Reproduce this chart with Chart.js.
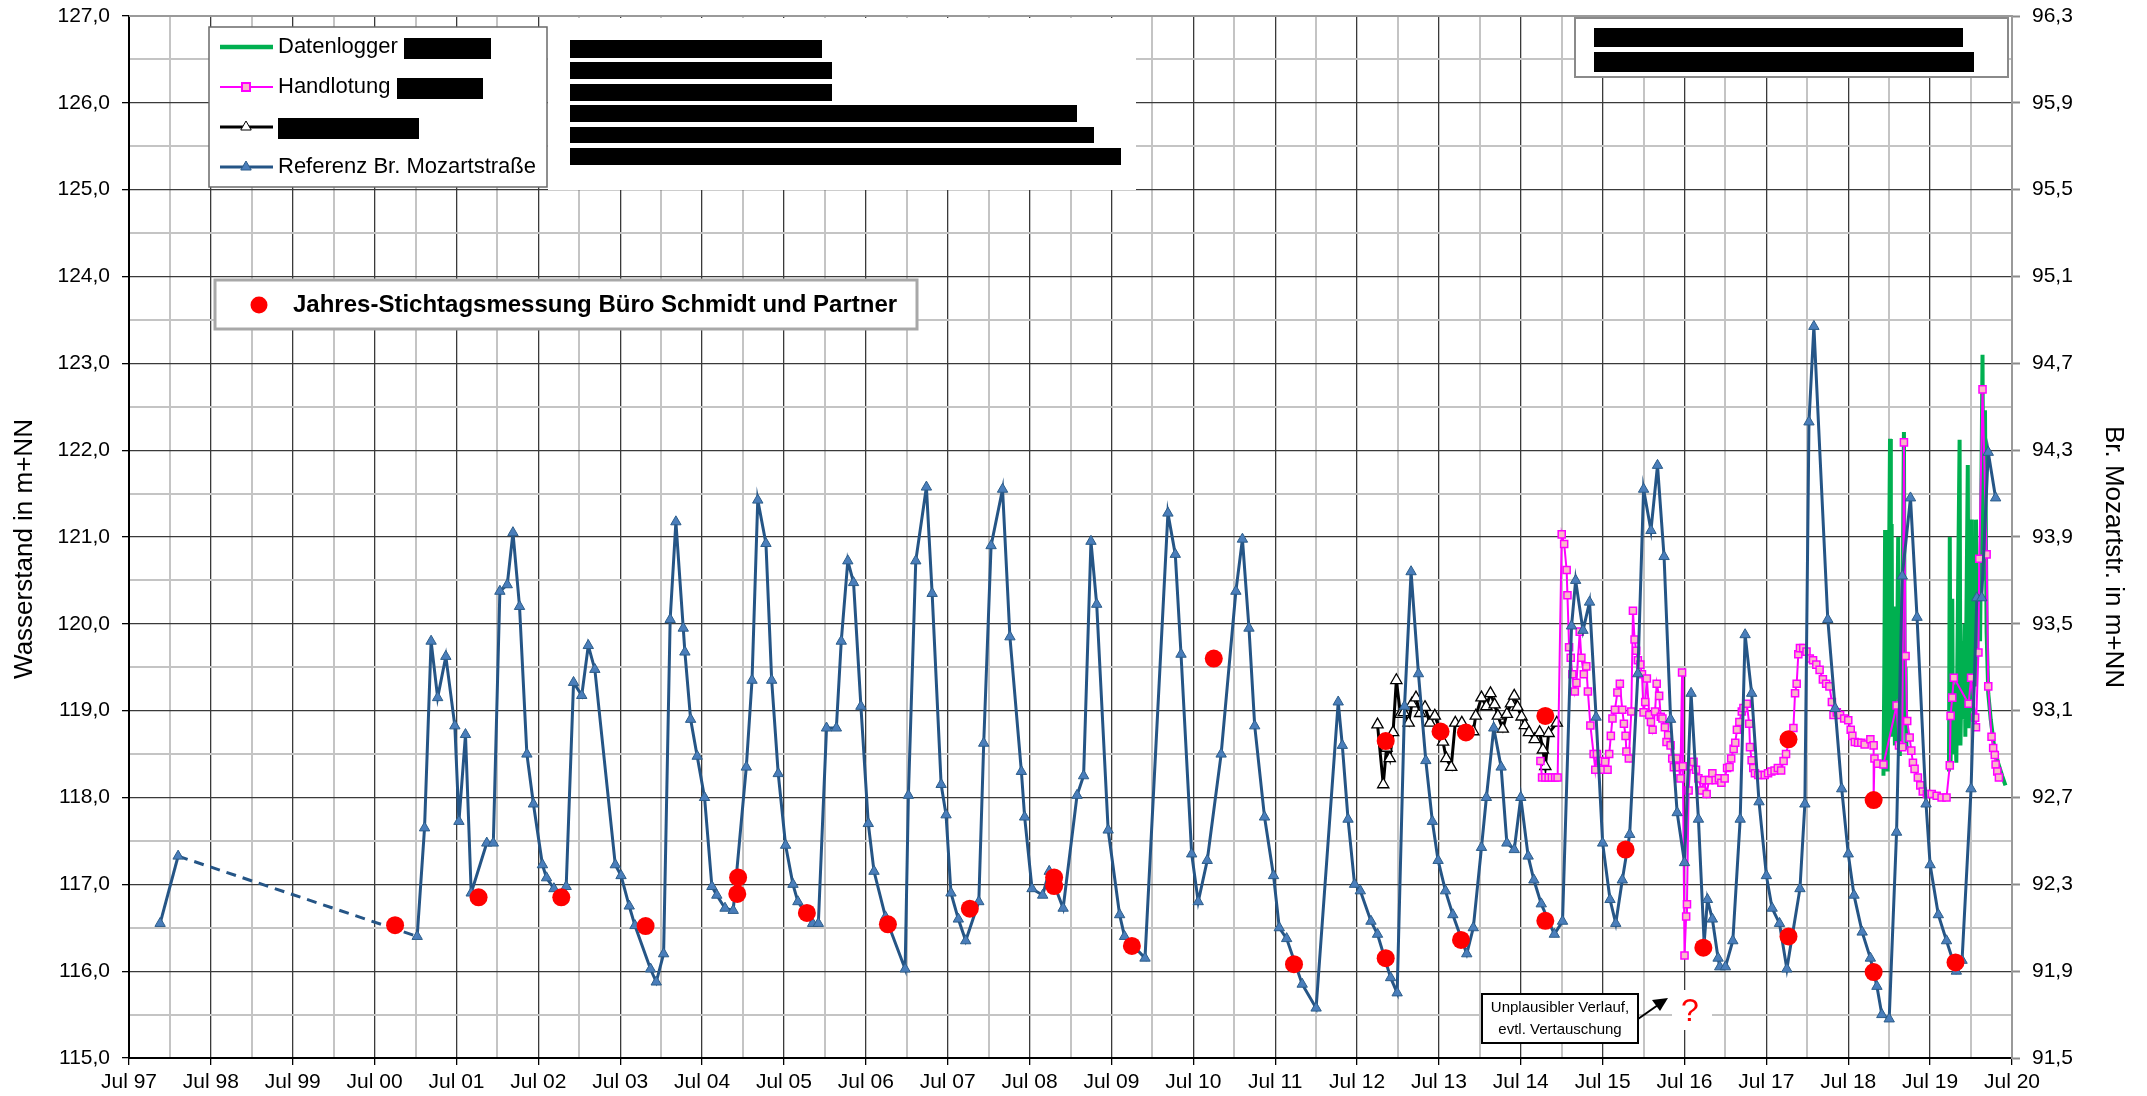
<!DOCTYPE html>
<html>
<head>
<meta charset="utf-8">
<script src="https://cdn.jsdelivr.net/npm/chart.js@4.4.1/dist/chart.umd.min.js"></script>
<style>
  html, body { margin: 0; padding: 0; background: #fff; }
  canvas { display: block; }
</style>
</head>
<body>
<canvas id="chart" width="2147" height="1096" style="width:2147px;height:1096px"></canvas>
<script>
// --- data (dates as decimal years, Jul = .5) ---
const refDates = [1997.88, 1998.10, 2001.02, 2001.11, 2001.19, 2001.27, 2001.37, 2001.48, 2001.53, 2001.61, 2001.68, 2001.87, 2001.95,
  2002.03, 2002.12, 2002.19, 2002.27, 2002.36, 2002.44, 2002.55, 2002.60, 2002.69, 2002.80, 2002.84, 2002.93,
  2003.03, 2003.11, 2003.19, 2003.44, 2003.51, 2003.61, 2003.68, 2003.87, 2003.94,
  2004.03, 2004.11, 2004.18, 2004.27, 2004.29, 2004.36, 2004.44, 2004.53, 2004.62, 2004.68, 2004.78, 2004.88,
  2005.04, 2005.11, 2005.18, 2005.28, 2005.35, 2005.43, 2005.52, 2005.61, 2005.67, 2005.85, 2005.92,
  2006.02, 2006.14, 2006.20, 2006.28, 2006.35, 2006.44, 2006.53, 2006.60, 2006.74, 2006.98,
  2007.02, 2007.11, 2007.24, 2007.31, 2007.42, 2007.48, 2007.54, 2007.63, 2007.72, 2007.88, 2007.94,
  2008.03, 2008.17, 2008.26, 2008.40, 2008.44, 2008.53, 2008.66, 2008.74, 2008.91,
  2009.08, 2009.16, 2009.25, 2009.32, 2009.46, 2009.60, 2009.66, 2009.91,
  2010.19, 2010.28, 2010.35, 2010.48, 2010.56, 2010.67, 2010.84,
  2011.02, 2011.10, 2011.18, 2011.25, 2011.37, 2011.48, 2011.55, 2011.64, 2011.83,
  2012.00, 2012.27, 2012.32, 2012.39, 2012.47, 2012.54, 2012.67, 2012.75, 2012.91, 2012.99,
  2013.08, 2013.16, 2013.25, 2013.34, 2013.42, 2013.49, 2013.58, 2013.67, 2013.84, 2013.92,
  2014.02, 2014.08, 2014.17, 2014.26, 2014.33, 2014.42, 2014.50, 2014.59, 2014.66, 2014.75, 2014.91,
  2015.01, 2015.12, 2015.17, 2015.26, 2015.34, 2015.42, 2015.50, 2015.59, 2015.66, 2015.74, 2015.83, 2015.93,
  2016.00, 2016.09, 2016.17, 2016.25, 2016.33, 2016.41, 2016.50, 2016.58, 2016.67, 2016.74, 2016.78, 2016.84, 2016.91, 2016.93,
  2017.00, 2017.09, 2017.18, 2017.24, 2017.32, 2017.41, 2017.50, 2017.57, 2017.66, 2017.75, 2017.91, 2017.97,
  2018.02, 2018.08, 2018.25, 2018.34, 2018.42, 2018.50, 2018.57, 2018.67, 2018.77, 2018.85, 2018.91,
  2019.00, 2019.09, 2019.16, 2019.26, 2019.34, 2019.45, 2019.50, 2019.60, 2019.70, 2019.82, 2019.89,
  2020.00, 2020.07, 2020.13, 2020.21, 2020.30];
// Referenz Br. Mozartstrasse, right axis (m+NN)
const refLevels = [92.12, 92.43, 92.06, 92.56, 93.42, 93.16, 93.35, 93.03, 92.59, 92.99, 92.26, 92.49, 92.49,
  93.65, 93.68, 93.92, 93.58, 92.90, 92.67, 92.39, 92.33, 92.28, 92.23, 92.29, 93.23,
  93.17, 93.40, 93.29, 92.39, 92.34, 92.20, 92.11, 91.91, 91.85,
  91.98, 93.52, 93.97, 93.48, 93.37, 93.06, 92.89, 92.70, 92.29, 92.25, 92.19, 92.18,
  92.84, 93.24, 94.07, 93.87, 93.24, 92.81, 92.48, 92.30, 92.22, 92.12, 92.12,
  93.02, 93.02, 93.42, 93.79, 93.69, 93.12, 92.58, 92.36, 92.15, 91.91,
  92.71, 93.79, 94.13, 93.64, 92.76, 92.62, 92.26, 92.14, 92.04, 92.22, 92.95,
  93.86, 94.12, 93.44, 92.82, 92.61, 92.28, 92.25, 92.36, 92.19,
  92.71, 92.80, 93.88, 93.59, 92.55, 92.16, 92.06, 91.96,
  94.01, 93.82, 93.36, 92.44, 92.22, 92.41, 92.90,
  93.65, 93.89, 93.48, 93.03, 92.61, 92.34, 92.10, 92.05, 91.84,
  91.73, 93.14, 92.94, 92.60, 92.30, 92.27, 92.13, 92.07, 91.87, 91.80,
  93.12, 93.74, 93.27, 92.87, 92.59, 92.41, 92.27, 92.16, 91.98, 92.10,
  92.47, 92.70, 93.02, 92.84, 92.49, 92.46, 92.70, 92.43, 92.32, 92.21, 92.07,
  92.13, 93.49, 93.70, 93.47, 93.60, 93.07, 92.49, 92.23, 92.12, 92.32, 92.53, 93.27,
  94.12, 93.93, 94.23, 93.81, 93.06, 92.63, 92.40, 93.18, 92.60, 92.03, 92.23, 92.14, 91.96, 91.92,
  91.92, 92.04, 92.60, 93.45, 93.18, 92.68, 92.34, 92.19, 92.12, 91.91, 92.28, 92.67,
  94.43, 94.87, 93.52, 93.11, 92.74, 92.44, 92.25, 92.08, 91.96, 91.83, 91.70,
  91.68, 92.54, 93.72, 94.08, 93.53, 92.67, 92.39, 92.16, 92.04, 91.90, 91.95,
  92.74, 93.62, 93.62, 94.29, 94.08];

// Jahres-Stichtagsmessung (left axis)
const stichDates = [2000.75, 2001.77, 2002.78, 2003.81, 2004.94, 2004.93, 2005.78, 2006.77, 2007.77, 2008.80, 2008.80,
  2009.75, 2010.75, 2011.73, 2012.85, 2012.85, 2013.52, 2013.77, 2013.83, 2014.80, 2014.80, 2015.78, 2016.73,
  2017.77, 2017.77, 2018.81, 2018.81, 2019.81];
const stichLevels = [116.53, 116.85, 116.85, 116.52, 117.08, 116.89, 116.67, 116.54, 116.72, 117.08, 116.98,
  116.29, 119.60, 116.08, 118.65, 116.15, 118.76, 116.36, 118.75, 118.94, 116.58, 117.40, 116.27,
  118.67, 116.40, 117.97, 115.99, 116.10];

// unnamed series (black, open triangles)
const blackDates = [2012.75, 2012.82, 2012.86, 2012.90, 2012.94, 2012.98, 2013.03, 2013.07, 2013.13, 2013.17, 2013.22,
  2013.27, 2013.33, 2013.39, 2013.45, 2013.52, 2013.55, 2013.59, 2013.65, 2013.70, 2013.78, 2013.83, 2013.92, 2013.95,
  2014.02, 2014.08, 2014.13, 2014.18, 2014.22, 2014.28, 2014.33, 2014.38, 2014.42, 2014.46, 2014.51, 2014.55,
  2014.60, 2014.67, 2014.73, 2014.77, 2014.80, 2014.84, 2014.94];
const blackLevels = [118.84, 118.15, 118.57, 118.45, 118.75, 119.35, 118.96, 118.98, 118.86, 119.08, 119.15,
  118.97, 119.04, 118.86, 118.94, 118.76, 118.64, 118.45, 118.35, 118.86, 118.86, 118.75, 118.76, 118.94,
  119.15, 119.05, 119.20, 119.07, 118.94, 118.79, 118.96, 119.08, 119.17, 119.04, 118.93, 118.83,
  118.75, 118.67, 118.75, 118.55, 118.36, 118.74, 118.86];

// Handlotung
const handDates = [2014.74, 2014.76, 2014.80, 2014.84, 2014.88, 2014.92, 2014.95,
  2015.00, 2015.03, 2015.06, 2015.07, 2015.09, 2015.11, 2015.13, 2015.16, 2015.18, 2015.22, 2015.24, 2015.27, 2015.30, 2015.32, 2015.35,
  2015.39, 2015.41, 2015.43, 2015.47, 2015.50, 2015.53, 2015.56, 2015.58, 2015.60, 2015.62, 2015.65, 2015.68, 2015.71, 2015.74,
  2015.76, 2015.78, 2015.79, 2015.82, 2015.85, 2015.87, 2015.89, 2015.91, 2015.93, 2015.96, 2015.98,
  2016.00, 2016.02, 2016.04, 2016.07, 2016.09, 2016.11, 2016.14, 2016.16, 2016.19, 2016.21, 2016.23, 2016.26, 2016.28, 2016.30,
  2016.33, 2016.35, 2016.37, 2016.40, 2016.43, 2016.45, 2016.47, 2016.48, 2016.50, 2016.52, 2016.53, 2016.55, 2016.57,
  2016.61, 2016.64, 2016.67, 2016.71, 2016.74, 2016.77, 2016.80, 2016.84, 2016.88, 2016.92, 2016.95, 2016.99,
  2017.02, 2017.05, 2017.07, 2017.10, 2017.12, 2017.14, 2017.17, 2017.20, 2017.22, 2017.26, 2017.29, 2017.30, 2017.32, 2017.34, 2017.36,
  2017.40, 2017.44, 2017.48, 2017.52, 2017.56, 2017.60, 2017.64, 2017.68, 2017.71, 2017.74, 2017.78, 2017.83, 2017.85, 2017.87, 2017.89,
  2017.91, 2017.95, 2017.99, 2018.03, 2018.07, 2018.11, 2018.15, 2018.19, 2018.23, 2018.27, 2018.30, 2018.32, 2018.36, 2018.40,
  2018.45, 2018.50, 2018.53, 2018.55, 2018.58, 2018.62, 2018.66, 2018.70, 2018.77, 2018.81, 2018.81, 2018.82, 2018.86, 2018.93,
  2019.09, 2019.12, 2019.16, 2019.18, 2019.20, 2019.22, 2019.25, 2019.27, 2019.29, 2019.31, 2019.35, 2019.38, 2019.41, 2019.46,
  2019.52, 2019.58, 2019.64, 2019.70, 2019.74, 2019.75, 2019.77, 2019.79, 2019.97, 2020.00, 2020.05, 2020.06, 2020.09, 2020.10,
  2020.14, 2020.19, 2020.21, 2020.25, 2020.27, 2020.29, 2020.30, 2020.32, 2020.34];
const handLevels = [118.42, 118.23, 118.23, 118.23, 118.23, 118.23, 118.23,
  121.03, 120.92, 120.62, 120.33, 119.73, 119.61, 119.42, 119.22, 119.32, 119.91, 119.61, 119.42, 119.51, 119.22, 118.83,
  118.50, 118.32, 118.50, 118.42, 118.32, 118.41, 118.32, 118.50, 118.71, 118.91, 119.01, 119.21, 119.31, 119.01,
  118.85, 118.71, 118.53, 118.45, 118.99, 120.15, 119.82, 119.69, 119.58, 119.53, 119.42,
  118.98, 119.10, 119.37, 118.95, 118.87, 118.78, 118.99, 119.31, 119.17, 118.93, 118.91, 118.81, 118.64, 118.72,
  118.60, 118.45, 118.35, 118.45, 118.35, 118.22, 119.44, 118.36, 116.18, 116.63, 116.77, 118.08, 118.36,
  118.41, 118.32, 118.22, 118.08, 118.20, 118.04, 118.20, 118.28, 118.20, 118.22, 118.17, 118.22,
  118.34, 118.35, 118.45, 118.56, 118.63, 118.78, 118.87, 118.99, 119.03, 119.08, 118.85, 118.58, 118.43, 118.34, 118.28,
  118.26, 118.26, 118.26, 118.28, 118.30, 118.31, 118.34, 118.31, 118.42, 118.50, 118.67, 118.80, 119.20, 119.31, 119.65,
  119.72, 119.72, 119.68, 119.60, 119.58, 119.53, 119.47, 119.36, 119.31, 119.28, 119.10, 118.95, 118.98, 118.95,
  118.91, 118.89, 118.78, 118.71, 118.64, 118.63, 118.63, 118.61, 118.67, 118.60, 117.98, 118.45, 118.39, 118.38,
  119.06, 118.60, 118.58, 122.09, 119.63, 118.88, 118.69, 118.54, 118.40, 118.33, 118.23, 118.14, 118.07, 118.04,
  118.04, 118.02, 118.00, 118.00, 118.37, 118.94, 119.15, 119.38, 119.08, 119.38, 118.92, 118.81, 119.67, 120.75,
  122.70, 120.80, 119.28, 118.70, 118.57, 118.49, 118.38, 118.30, 118.23];

// Datenlogger (null = no record)
const loggerDates = [2018.93, 2018.94, 2018.95, 2018.96, 2018.97, 2018.98, 2019.01, 2019.02, 2019.03, 2019.04, 2019.05,
  2019.07, 2019.08, 2019.09, 2019.11, 2019.12, 2019.13, 2019.15, 2019.18, 2019.19, 2019.20, 2019.21, 2019.22, 2019.50,
  2019.73, 2019.74, 2019.75, 2019.77, 2019.78, 2019.80, 2019.82, 2019.86, 2019.87, 2019.89, 2019.90, 2019.92, 2019.93,
  2019.96, 2019.97, 2019.99, 2020.01, 2020.02, 2020.04, 2020.05, 2020.06, 2020.07, 2020.09, 2020.11, 2020.14, 2020.15,
  2020.17, 2020.19, 2020.21, 2020.24, 2020.28, 2020.33, 2020.38, 2020.42];
const loggerLevels = [118.25, 119.4, 121.08, 118.6, 119.5, 118.3, 122.13, 118.7, 121.15, 118.8, 120.1,
  118.6, 120.2, 118.9, 121.0, 118.5, 119.4, 118.55, 122.21, 118.9, 119.5, 118.6, 118.55, null,
  118.3, 121.0, 118.4, 120.29, 118.5, 119.3, 118.4, 122.12, 118.6, 119.8, 118.9, 120.0, 118.7,
  121.83, 118.8, 119.2, 121.2, 119.0, 119.9, 119.3, 121.2, 119.5, 120.3, 119.8, 123.10, 120.5,
  122.46, 119.9, 119.2, 118.9, 118.6, 118.4, 118.25, 118.14];

// axis ticks
const leftTicks = [115, 115.5, 116, 116.5, 117, 117.5, 118, 118.5, 119, 119.5, 120, 120.5, 121, 121.5,
  122, 122.5, 123, 123.5, 124, 124.5, 125, 125.5, 126, 126.5, 127];
const rightTicks = [91.5, 91.9, 92.3, 92.7, 93.1, 93.5, 93.9, 94.3, 94.7, 95.1, 95.5, 95.9, 96.3];
const xTicks = [];
for (let v = 1997.5; v <= 2020.51; v += 0.5) xTicks.push(Math.round(v * 10) / 10);

// --- helpers ---
const FONT = "'Liberation Sans', Arial, Helvetica, sans-serif";
const comma = v => v.toFixed(1).replace('.', ',');
const isJul = v => Math.abs(v - Math.floor(v) - 0.5) < 0.01;
const isInt = v => Math.abs(v - Math.round(v)) < 0.01;
const pts = (xs, ys) => xs.map((x, i) => ({ x: x, y: ys[i] }));

// extra drawing: legend boxes, masked labels, annotation, axis titles, frame
const overlays = {
    id: 'overlays',
    afterDraw(chart) {
        const c = chart.ctx;
        const a = chart.chartArea;
        c.save();

        // frame
        c.lineWidth = 2;
        c.strokeStyle = '#9a9a9a';
        c.beginPath();
        c.moveTo(a.left, a.top); c.lineTo(a.right, a.top); c.lineTo(a.right, a.bottom);
        c.stroke();

        // white block behind the redacted notes
        c.fillStyle = '#fff';
        c.fillRect(548, a.top + 2, 588, 190 - a.top - 2);

        // legend
        c.fillStyle = '#fff';
        c.fillRect(209, 27, 338, 160);
        c.strokeStyle = '#6a6a6a';
        c.lineWidth = 1.5;
        c.strokeRect(209, 27, 338, 160);

        const rows = [47, 87, 127, 167];
        // Datenlogger
        c.strokeStyle = '#00b050'; c.lineWidth = 4.5;
        c.beginPath(); c.moveTo(220, rows[0]); c.lineTo(273, rows[0]); c.stroke();
        // Handlotung
        c.strokeStyle = '#ff00ff'; c.lineWidth = 2;
        c.beginPath(); c.moveTo(220, rows[1]); c.lineTo(273, rows[1]); c.stroke();
        c.fillStyle = '#f9b8c8'; c.fillRect(242, rows[1] - 4, 8, 8);
        c.strokeRect(242, rows[1] - 4, 8, 8);
        // black
        c.strokeStyle = '#000'; c.lineWidth = 3;
        c.beginPath(); c.moveTo(220, rows[2]); c.lineTo(273, rows[2]); c.stroke();
        triangle(c, 246, rows[2], 6, '#fff', '#000');
        // Referenz
        c.strokeStyle = '#255586'; c.lineWidth = 3;
        c.beginPath(); c.moveTo(220, rows[3]); c.lineTo(273, rows[3]); c.stroke();
        triangle(c, 246, rows[3], 6, '#4a7ebb', '#2c5d8a');

        c.fillStyle = '#000';
        c.font = '22px ' + FONT;
        c.textBaseline = 'middle';
        c.textAlign = 'left';
        c.fillText('Datenlogger', 278, rows[0]);
        c.fillText('Handlotung', 278, rows[1]);
        c.fillText('Referenz Br. Mozartstraße', 278, rows[3]);

        // redactions
        c.fillStyle = '#000';
        c.fillRect(404, 38, 87, 21);
        c.fillRect(397, 78, 86, 21);
        c.fillRect(278, 118, 141, 21);
        c.fillRect(570, 40, 252, 18);
        c.fillRect(570, 62, 262, 17);
        c.fillRect(570, 84, 262, 17);
        c.fillRect(570, 105, 507, 17);
        c.fillRect(570, 127, 524, 16);
        c.fillRect(570, 148, 551, 17);

        // top right box
        c.fillStyle = '#fff';
        c.fillRect(1575, 18, 433, 59);
        c.strokeStyle = '#8a8a8a'; c.lineWidth = 2;
        c.strokeRect(1575, 18, 433, 59);
        c.fillStyle = '#000';
        c.fillRect(1594, 28, 369, 19);
        c.fillRect(1594, 52, 380, 20);

        // Stichtag legend
        c.fillStyle = '#fff';
        c.fillRect(215, 280, 702, 49);
        c.strokeStyle = '#a8a8a8'; c.lineWidth = 3;
        c.strokeRect(215, 280, 702, 49);
        c.fillStyle = '#ff0000';
        c.beginPath(); c.arc(259, 305, 8.5, 0, Math.PI * 2); c.fill();
        c.fillStyle = '#000';
        c.font = 'bold 24px ' + FONT;
        c.fillText('Jahres-Stichtagsmessung Büro Schmidt und Partner', 293, 305);

        // annotation
        c.fillStyle = '#fff';
        c.fillRect(1482, 994, 156, 49);
        c.strokeStyle = '#000'; c.lineWidth = 2;
        c.strokeRect(1482, 994, 156, 49);
        c.fillStyle = '#000';
        c.font = '15px ' + FONT;
        c.textAlign = 'center';
        c.fillText('Unplausibler Verlauf,', 1560, 1008);
        c.fillText('evtl. Vertauschung', 1560, 1030);
        c.beginPath(); c.moveTo(1638, 1019); c.lineTo(1658, 1005); c.stroke();
        c.beginPath();
        c.moveTo(1668, 998); c.lineTo(1652, 1000); c.lineTo(1660, 1011);
        c.closePath(); c.fill();
        c.fillStyle = '#fff';
        c.fillRect(1672, 990, 40, 40);
        c.fillStyle = '#ff0000';
        c.font = '32px ' + FONT;
        c.fillText('?', 1690, 1012);

        // axis titles
        c.fillStyle = '#000';
        c.font = '26px ' + FONT;
        c.translate(25, 549);
        c.rotate(-Math.PI / 2);
        c.fillText('Wasserstand in m+NN', 0, 0);
        c.setTransform(1, 0, 0, 1, 0, 0);
        c.translate(2113, 557);
        c.rotate(Math.PI / 2);
        c.fillText('Br. Mozartstr. in m+NN', 0, 0);
        c.restore();
    }
};

function triangle(c, x, y, r, fill, stroke) {
    c.beginPath();
    c.moveTo(x, y - r);
    c.lineTo(x + r * 0.87, y + r * 0.5);
    c.lineTo(x - r * 0.87, y + r * 0.5);
    c.closePath();
    c.fillStyle = fill; c.fill();
    c.strokeStyle = stroke; c.lineWidth = 1; c.stroke();
}

// fixed axis boxes so the plot area sits where the reference has it
function fixY(width) {
    return s => { s.width = width; s.paddingTop = 0; s.paddingBottom = 0; };
}

new Chart(document.getElementById('chart'), {
    type: 'line',
    data: {
        datasets: [
            {
                label: 'Jahres-Stichtagsmessung',
                data: pts(stichDates, stichLevels),
                yAxisID: 'y',
                showLine: false,
                pointStyle: 'circle',
                pointRadius: 9,
                backgroundColor: '#ff0000',
                borderColor: '#ff0000',
                borderWidth: 0,
                order: 1
            },
            {
                label: 'Referenz Br. Mozartstraße',
                data: pts(refDates, refLevels),
                yAxisID: 'y2',
                borderColor: '#255586',
                borderWidth: 3,
                pointStyle: 'triangle',
                pointRadius: 6,
                pointBackgroundColor: '#4a7ebb',
                pointBorderColor: '#2c5d8a',
                pointBorderWidth: 1,
                segment: {
                    borderDash: ctx => (ctx.p1.parsed.x - ctx.p0.parsed.x > 1 ? [10, 7] : undefined)
                },
                order: 2
            },
            {
                label: 'Handlotung',
                data: pts(handDates, handLevels),
                yAxisID: 'y',
                borderColor: '#ff00ff',
                borderWidth: 2,
                pointStyle: 'rect',
                pointRadius: 5,
                pointBackgroundColor: '#f9b8c8',
                pointBorderColor: '#ff00ff',
                pointBorderWidth: 1.5,
                order: 3
            },
            {
                label: 'black',
                data: pts(blackDates, blackLevels),
                yAxisID: 'y',
                borderColor: '#000',
                borderWidth: 3,
                pointStyle: 'triangle',
                pointRadius: 6.5,
                pointBackgroundColor: '#fff',
                pointBorderColor: '#000',
                pointBorderWidth: 1.3,
                order: 4
            },
            {
                label: 'Datenlogger',
                data: pts(loggerDates, loggerLevels),
                yAxisID: 'y',
                borderColor: '#00b050',
                borderWidth: 4,
                pointRadius: 0,
                spanGaps: false,
                order: 5
            }
        ]
    },
    options: {
        responsive: false,
        animation: false,
        devicePixelRatio: 1,
        layout: { padding: { top: 16, left: 0, right: 0, bottom: 0 } },
        plugins: {
            legend: { display: false },
            tooltip: { enabled: false }
        },
        elements: { line: { tension: 0 } },
        scales: {
            x: {
                type: 'linear',
                min: 1997.5,
                max: 2020.5,
                afterBuildTicks: s => { s.ticks = xTicks.map(v => ({ value: v })); },
                afterFit: s => { s.height = 38; s.paddingLeft = 0; s.paddingRight = 0; },
                ticks: {
                    autoSkip: false,
                    maxRotation: 0,
                    padding: 5,
                    color: '#000',
                    font: { family: FONT, size: 21 },
                    callback: v => (isJul(v) ? 'Jul ' + String(Math.floor(v)).slice(2) : '')
                },
                grid: {
                    color: ctx => (isJul(ctx.tick.value) ? '#3a3a3a' : '#c4c4c4'),
                    lineWidth: ctx => (isJul(ctx.tick.value) ? 1.3 : 2),
                    tickLength: 7,
                    tickColor: ctx => (isJul(ctx.tick.value) ? '#000' : 'rgba(0,0,0,0)'),
                    tickWidth: 1.3
                },
                border: { color: '#000', width: 2 }
            },
            y: {
                position: 'left',
                min: 115,
                max: 127,
                afterBuildTicks: s => { s.ticks = leftTicks.map(v => ({ value: v })); },
                afterFit: fixY(129),
                ticks: {
                    autoSkip: false,
                    padding: 12,
                    color: '#000',
                    font: { family: FONT, size: 21 },
                    callback: v => (isInt(v) ? comma(v) : '')
                },
                grid: {
                    color: ctx => (isInt(ctx.tick.value) ? '#3a3a3a' : '#c4c4c4'),
                    lineWidth: ctx => (isInt(ctx.tick.value) ? 1.3 : 2),
                    tickLength: 7,
                    tickColor: ctx => (isInt(ctx.tick.value) ? '#000' : 'rgba(0,0,0,0)')
                },
                border: { color: '#000', width: 2 }
            },
            y2: {
                position: 'right',
                min: 91.5,
                max: 96.3,
                afterBuildTicks: s => { s.ticks = rightTicks.map(v => ({ value: v })); },
                afterFit: fixY(135),
                ticks: {
                    autoSkip: false,
                    padding: 12,
                    color: '#000',
                    font: { family: FONT, size: 21 },
                    callback: v => comma(v)
                },
                grid: {
                    drawOnChartArea: false,
                    tickLength: 8,
                    tickColor: '#8a8a8a',
                    tickWidth: 2
                },
                border: { color: '#9a9a9a', width: 2 }
            }
        }
    },
    plugins: [overlays]
});
</script>
</body>
</html>
